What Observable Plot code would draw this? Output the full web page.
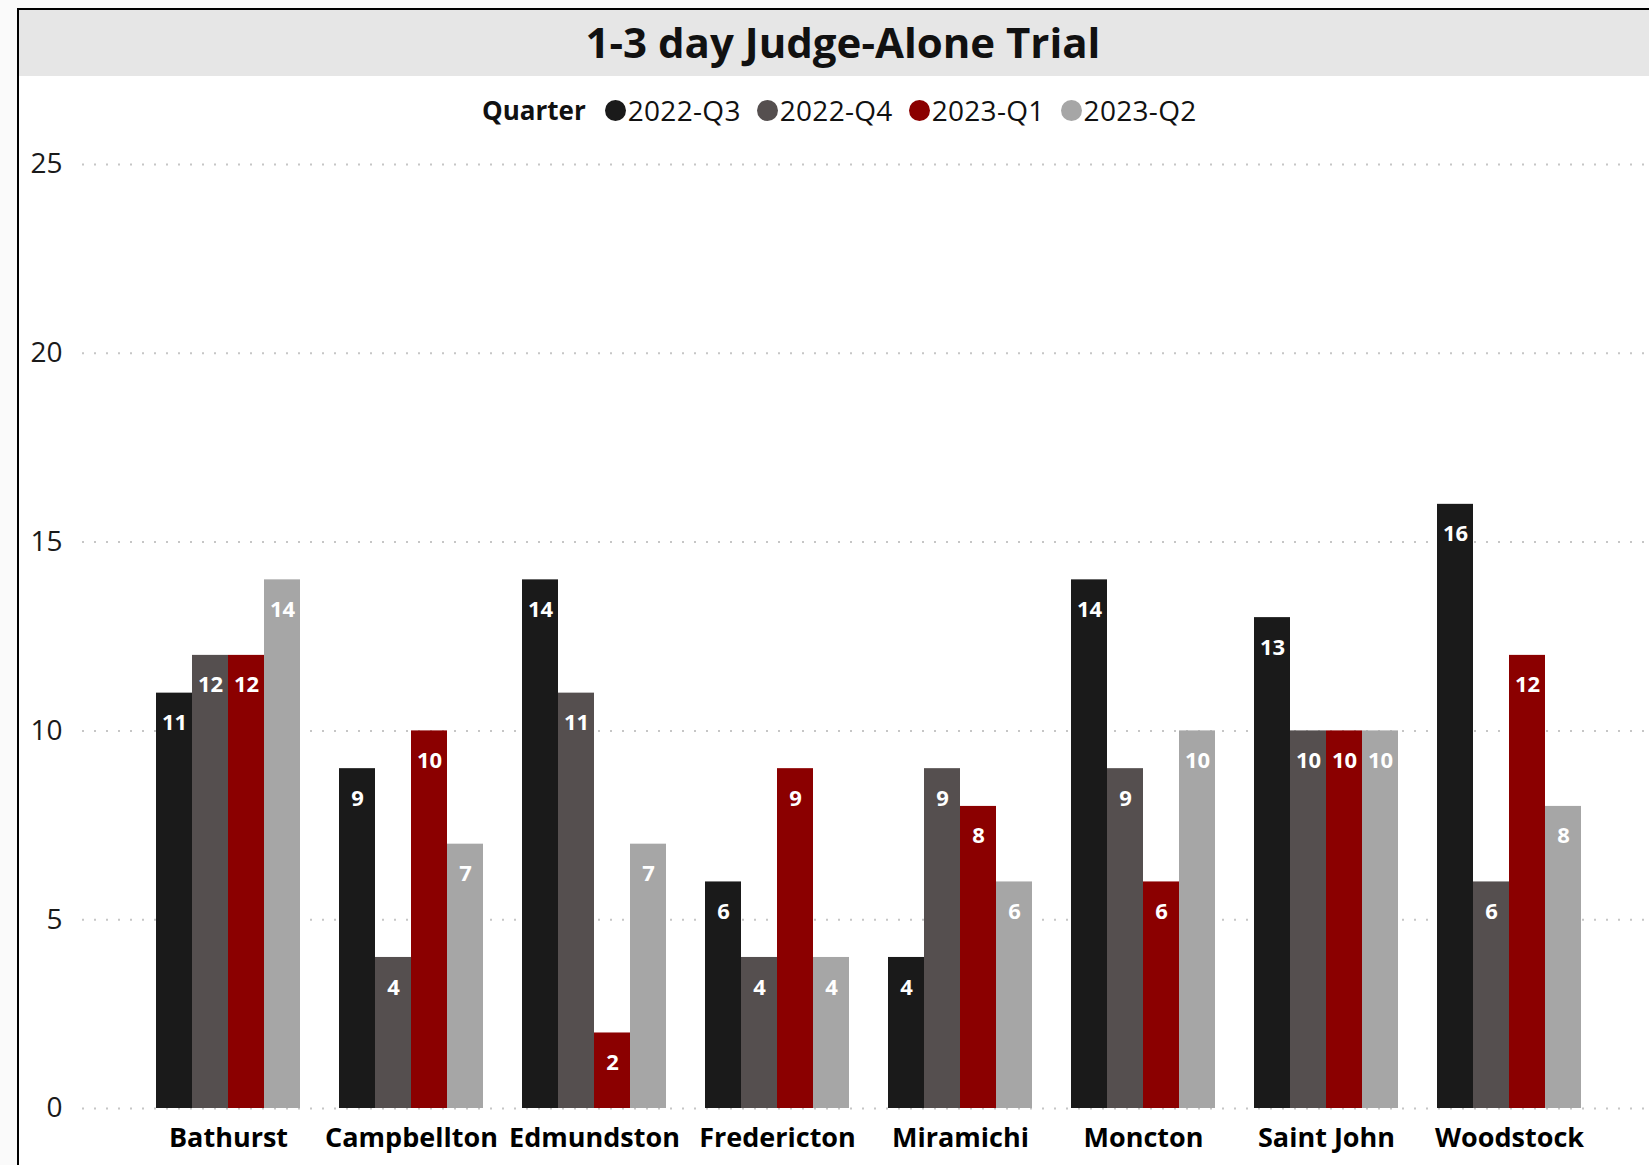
<!DOCTYPE html>
<html>
<head>
<meta charset="utf-8">
<script src="https://cdn.jsdelivr.net/npm/d3@7"></script>
<script src="https://cdn.jsdelivr.net/npm/@observablehq/plot@0.6"></script>
<style>
  html, body { margin: 0; padding: 0; width: 1649px; height: 1165px; overflow: hidden; background: #fafafa; font-family: "Open Sans", sans-serif; }
  #frame { position: absolute; left: 17px; top: 8px; width: 1632px; height: 1157px; border-left: 2px solid #000; border-top: 2px solid #000; background: #fff; box-sizing: border-box; }
  #band { position: absolute; left: 19px; top: 10px; width: 1630px; height: 66px; background: #e6e6e6; }
  #title { position: absolute; left: 37px; width: 1612px; top: 10px; height: 66px; line-height: 64px; text-align: center; font-weight: 700; font-size: 42px; color: #111; }
  #legend { position: absolute; left: 482px; top: 91px; height: 38px; display: flex; justify-content: flex-start; align-items: center; color: #111; white-space: nowrap; }
  #legend .head { font-weight: 700; font-size: 26px; margin-right: 19px; }
  #legend .item { display: flex; align-items: center; margin-right: 16px; font-size: 28px; letter-spacing: 0.3px; }
  #legend .dot { width: 21px; height: 21px; border-radius: 50%; margin-right: 2px; }
  .chart { position: absolute; left: 0; top: 130px; }
  .chart svg { max-width: none !important; }
</style>
</head>
<body>
<div id="frame"></div>
<div id="band"></div>
<div id="title"></div>
<div id="legend"></div>
<div id="grid" class="chart"></div>
<div id="bars" class="chart"></div>
<script>
const titleText = "1-3 day Judge-Alone Trial";
const legendTitle = "Quarter";
const cities = ["Bathurst", "Campbellton", "Edmundston", "Fredericton", "Miramichi", "Moncton", "Saint John", "Woodstock"];
const quarters = ["2022-Q3", "2022-Q4", "2023-Q1", "2023-Q2"];
const values2022Q3 = [11, 9, 14, 6, 4, 14, 13, 16];
const values2022Q4 = [12, 4, 11, 4, 9, 9, 10, 6];
const values2023Q1 = [12, 10, 2, 9, 8, 6, 10, 12];
const values2023Q2 = [14, 7, 7, 4, 6, 10, 10, 8];
const yTicks = [0, 5, 10, 15, 20, 25];
const colors = ["#1a1a1a", "#554f4f", "#8b0000", "#a6a6a6"];

const series = [values2022Q3, values2022Q4, values2023Q1, values2023Q2];
const data = [];
cities.forEach((city, i) => {
  quarters.forEach((q, j) => data.push({city, quarter: q, value: series[j][i]}));
});

document.getElementById("title").textContent = titleText;
const legend = document.getElementById("legend");
const head = document.createElement("span");
head.className = "head";
head.textContent = legendTitle;
legend.appendChild(head);
quarters.forEach((q, j) => {
  const item = document.createElement("span");
  item.className = "item";
  const dot = document.createElement("span");
  dot.className = "dot";
  dot.style.background = colors[j];
  const lab = document.createElement("span");
  lab.textContent = q;
  item.appendChild(dot);
  item.appendChild(lab);
  legend.appendChild(item);
});

const common = {
  width: 1649,
  height: 1035,
  marginTop: 34,
  marginBottom: 57,
  marginLeft: 82,
  marginRight: 0,
  style: {fontFamily: "'Open Sans', sans-serif", background: "transparent", color: "#111"}
};

// Background layer: y axis labels and dotted gridlines spanning the full width
const gridChart = Plot.plot({
  ...common,
  y: {domain: [0, 25]},
  marks: [
    Plot.ruleY(yTicks, {stroke: "#c6c6c6", strokeWidth: 2, strokeDasharray: "2,10"}),
    Plot.axisY(yTicks, {anchor: "left", tickSize: 0, tickPadding: 20, fontSize: 28, fill: "#1a1a1a", label: null})
  ]
});
document.getElementById("grid").appendChild(gridChart);

// Foreground layer: grouped bars faceted by city
const barChart = Plot.plot({
  ...common,
  fx: {domain: cities, range: [155, 1582], paddingInner: 0.2144, paddingOuter: 0, label: null},
  x: {domain: quarters, padding: 0, axis: null},
  y: {domain: [0, 25], axis: null},
  color: {domain: quarters, range: colors},
  marks: [
    Plot.barY(data, {fx: "city", x: "quarter", y: "value", fill: "quarter"}),
    Plot.text(data, {fx: "city", x: "quarter", y: "value", text: d => String(d.value), dy: 30, fill: "#fff", fontWeight: "bold", fontSize: 22}),
    Plot.axisFx({anchor: "bottom", tickSize: 0, tickPadding: 19, fontSize: 27, fontWeight: "bold", fill: "#000", label: null})
  ]
});
document.getElementById("bars").appendChild(barChart);
</script>
</body>
</html>
